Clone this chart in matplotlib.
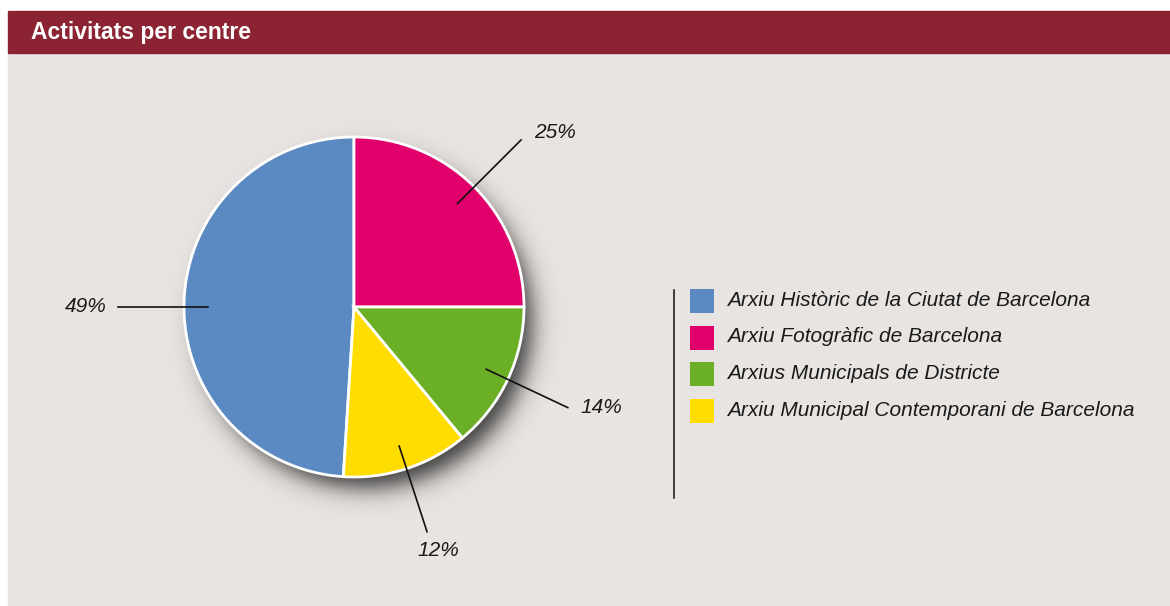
import numpy as np
import matplotlib
matplotlib.use("Agg")
import matplotlib.pyplot as plt
from matplotlib.patches import Rectangle

# data
labels = ["Arxiu Històric de la Ciutat de Barcelona",
          "Arxiu Fotogràfic de Barcelona",
          "Arxius Municipals de Districte",
          "Arxiu Municipal Contemporani de Barcelona"]
values = [49, 25, 14, 12]
colors = ["#5B8AC3", "#E1006B", "#6BAF27", "#FFDD00"]
title = "Activitats per centre"

W, H = 1170, 606
BG = "#E8E4E1"
BAR = "#8B2332"
FONT = "Liberation Sans"

fig = plt.figure(figsize=(W / 100, H / 100), dpi=100)
ax = fig.add_axes([0, 0, 1, 1])

# panel + title bar (pixel coords, y flipped)
ax.add_patch(Rectangle((8, 1), W - 8, 552, color=BG, zorder=0))
ax.add_patch(Rectangle((8, 553), W - 8, 42, color=BAR, zorder=0))
ax.text(31, H - 33, title, color="white", fontsize=16.5, fontweight="bold",
        family=FONT, va="center", ha="left")

cx, cy, R = 354, H - 307, 170

# soft drop shadow as a blurred disc image
sx, sy = cx + 12, cy - 15
xs = np.arange(cx - 260, cx + 261)
ys = np.arange(cy - 260, cy + 261)
X, Y = np.meshgrid(xs, ys)
d = np.hypot(X - sx, Y - sy)
alpha = 0.75 * 0.5 * (1 - np.tanh((d - (R - 4)) / 14.0))
img = np.zeros(X.shape + (4,))
img[..., 3] = alpha
ax.imshow(img, extent=(xs[0], xs[-1], ys[0], ys[-1]), origin="lower",
          zorder=1, interpolation="bilinear")

start = 90 + 360 * values[0] / sum(values)
wedges, _ = ax.pie(values, colors=colors, startangle=start, counterclock=False,
                   center=(cx, cy), radius=R,
                   wedgeprops=dict(edgecolor="white", linewidth=2))
for w in wedges:
    w.set_zorder(3)

# leader lines + percentage labels (text offsets from line end, px)
offsets = [(-32, 0), (34, 7), (34, 0), (11, -19)]
for w, v, off in zip(wedges, values, offsets):
    ang = np.deg2rad((w.theta1 + w.theta2) / 2)
    if v == values[0]:
        ang = np.pi
    c, s = np.cos(ang), np.sin(ang)
    x1, y1 = cx + 1.39 * R * c, cy + 1.39 * R * s
    ax.plot([cx + 0.86 * R * c, x1], [cy + 0.86 * R * s, y1],
            color="#111111", lw=1.2, zorder=4)
    ax.text(x1 + off[0], y1 + off[1], f"{v}%", fontsize=15,
            style="italic", family=FONT, color="#1a1a1a",
            ha="center", va="center", zorder=4)

# legend
ax.plot([674, 674], [H - 290, H - 498], color="#222222", lw=1.2)
for i, (lab, col) in enumerate(zip(labels, colors)):
    yc = H - (301 + i * 36.7)
    ax.add_patch(Rectangle((690, yc - 12), 24, 24, color=col, lw=0))
    ax.text(727, yc + 1, lab, fontsize=15, style="italic",
            family=FONT, color="#1a1a1a", va="center", ha="left")

ax.set_xlim(0, W)
ax.set_ylim(0, H)
ax.set_aspect("auto")
ax.axis("off")
fig.savefig("out.png", dpi=100, facecolor="white")
